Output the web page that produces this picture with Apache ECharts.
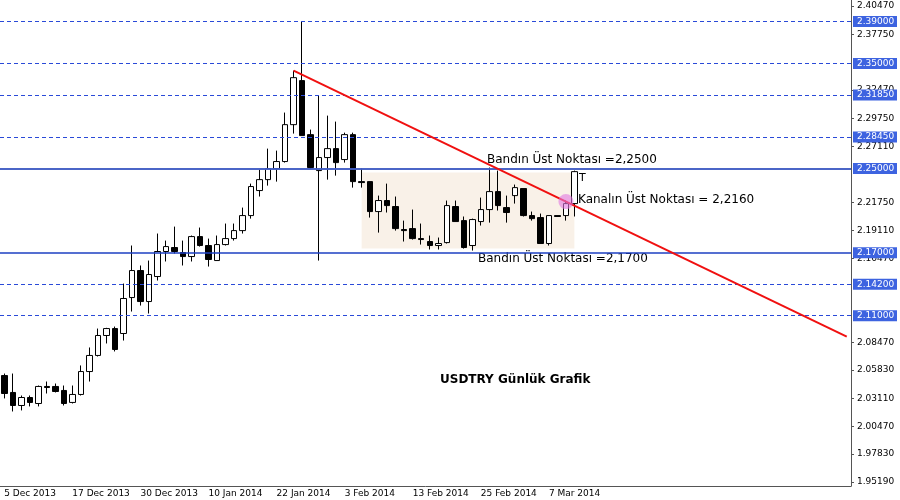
<!DOCTYPE html>
<html>
<head>
<meta charset="utf-8">
<script src="https://cdn.jsdelivr.net/npm/echarts@6/dist/echarts.min.js"></script>
<style>html,body{margin:0;padding:0;background:#fff}#chart{width:900px;height:500px}</style>
</head>
<body>
<div id="chart"></div>
<script>
// OHLC: [open, close, low, high]
var candles = [
    [2.0531, 2.0360, 2.0313, 2.0550], [2.0370, 2.0246, 2.0189, 2.0550], [2.0246, 2.0322, 2.0199, 2.0341],
    [2.0322, 2.0275, 2.0237, 2.0341], [2.0265, 2.0427, 2.0237, 2.0436], [2.0427, 2.0417, 2.0360, 2.0474],
    [2.0427, 2.0379, 2.0370, 2.0455], [2.0389, 2.0265, 2.0246, 2.0436], [2.0275, 2.0351, 2.0265, 2.0436],
    [2.0351, 2.0569, 2.0341, 2.0627], [2.0569, 2.0722, 2.0474, 2.0798], [2.0722, 2.0912, 2.0712, 2.0978],
    [2.0912, 2.0978, 2.0836, 2.0985], [2.0978, 2.0779, 2.0760, 2.0997], [2.0931, 2.1264, 2.0864, 2.1406],
    [2.1273, 2.1530, 2.1140, 2.1768], [2.1530, 2.1235, 2.1197, 2.1578], [2.1235, 2.1492, 2.1121, 2.1625],
    [2.1473, 2.1711, 2.1435, 2.1882], [2.1711, 2.1758, 2.1616, 2.1815], [2.1749, 2.1711, 2.1692, 2.1948],
    [2.1701, 2.1663, 2.1578, 2.1815], [2.1663, 2.1853, 2.1616, 2.1863], [2.1853, 2.1768, 2.1758, 2.1939],
    [2.1768, 2.1635, 2.1568, 2.1834], [2.1625, 2.1777, 2.1625, 2.1863], [2.1777, 2.1834, 2.1768, 2.1977],
    [2.1834, 2.1910, 2.1815, 2.1977], [2.1910, 2.2053, 2.1882, 2.2129], [2.2053, 2.2329, 2.2024, 2.2357],
    [2.2291, 2.2395, 2.2234, 2.2490], [2.2395, 2.2500, 2.2338, 2.2690], [2.2500, 2.2567, 2.2376, 2.2671],
    [2.2567, 2.2918, 2.2557, 2.3033], [2.2918, 2.3365, 2.2833, 2.3432], [2.3337, 2.2814, 2.2814, 2.3898],
    [2.2823, 2.2510, 2.2500, 2.2871], [2.2481, 2.2605, 2.1625, 2.3194], [2.2605, 2.2690, 2.2395, 2.3004],
    [2.2690, 2.2557, 2.2433, 2.2947], [2.2586, 2.2823, 2.2557, 2.2842], [2.2823, 2.2376, 2.2319, 2.2842],
    [2.2376, 2.2367, 2.2319, 2.2500], [2.2376, 2.2091, 2.2034, 2.2376], [2.2091, 2.2196, 2.1891, 2.2243],
    [2.2196, 2.2148, 2.2082, 2.2357], [2.2139, 2.1929, 2.1910, 2.2234], [2.1920, 2.1910, 2.1806, 2.2005],
    [2.1929, 2.1834, 2.1825, 2.2110], [2.1834, 2.1825, 2.1777, 2.1977], [2.1806, 2.1768, 2.1730, 2.1863],
    [2.1768, 2.1787, 2.1730, 2.1844], [2.1796, 2.2148, 2.1787, 2.2196], [2.2139, 2.1996, 2.1996, 2.2196],
    [2.2005, 2.1749, 2.1739, 2.2044], [2.1768, 2.2015, 2.1720, 2.2024], [2.1996, 2.2110, 2.1958, 2.2224],
    [2.2110, 2.2281, 2.1986, 2.2510], [2.2281, 2.2148, 2.2101, 2.2481], [2.2129, 2.2082, 2.1986, 2.2243],
    [2.2243, 2.2319, 2.2167, 2.2348], [2.2310, 2.2053, 2.2044, 2.2310], [2.2053, 2.2024, 2.2005, 2.2091],
    [2.2034, 2.1787, 2.1787, 2.2072], [2.1787, 2.2053, 2.1768, 2.2053], [2.2053, 2.2044, 2.2044, 2.2053],
    [2.2053, 2.2167, 2.2005, 2.2196], [2.2167, 2.2471, 2.2044, 2.2481]
];
var yTicks = [2.40470, 2.37750, 2.32470, 2.29750, 2.27110, 2.21750, 2.19110, 2.16470,
    2.08470, 2.05830, 2.03110, 2.00470, 1.97830, 1.95190];
var dashedLevels = ['2.39000', '2.35000', '2.31850', '2.28450', '2.14200', '2.11000'];
var solidLevels = ['2.25000', '2.17000'];
var lastPrice = '2.24710';
var trend = [[34, 2.3432], [99, 2.0902]];
var band = [[42, 2.2462], [67, 2.1739]];
var kanal = [66, 2.2186];

// trading days, Christmas and New Year skipped
var months = ['Jan', 'Feb', 'Mar', 'Apr', 'May', 'Jun', 'Jul', 'Aug', 'Sep', 'Oct', 'Nov', 'Dec'];
var dates = [];
var d = new Date(Date.UTC(2013, 11, 5));
while (dates.length < 100) {
    var wd = d.getUTCDay();
    var skip = (d.getUTCMonth() == 11 && d.getUTCDate() == 25) || (d.getUTCMonth() == 0 && d.getUTCDate() == 1);
    if (wd != 0 && wd != 6 && !skip) {
        dates.push(d.getUTCDate() + ' ' + months[d.getUTCMonth()] + ' ' + d.getUTCFullYear());
    }
    d.setUTCDate(d.getUTCDate() + 1);
}

var boxLabel = function (text, bg) {
    return {
        show: true, position: 'end', distance: 2, formatter: text,
        backgroundColor: bg, color: '#fff', fontFamily: 'DejaVu Sans', fontSize: 9,
        padding: [1, 4, 1, 4], width: 36
    };
};
var lines = [];
dashedLevels.forEach(function (v) {
    lines.push({yAxis: +v, lineStyle: {color: '#2a4ad8', type: [4, 3], width: 1}, label: boxLabel(v, '#3d63e0')});
});
lines.push({yAxis: +lastPrice, lineStyle: {color: '#c8c8c8', type: 'solid', width: 1.5}, label: boxLabel(lastPrice, '#000')});
solidLevels.forEach(function (v) {
    lines.push({yAxis: +v, lineStyle: {color: '#1d3fc2', type: 'solid', width: 1.5}, label: boxLabel(v, '#3d63e0')});
});
lines.push([
    {coord: trend[0], lineStyle: {color: '#f01010', width: 2, type: 'solid'}, label: {show: false}, symbol: 'none'},
    {coord: trend[1], symbol: 'none'}
]);

var myChart = echarts.init(document.getElementById('chart'));
myChart.setOption({
    animation: false,
    backgroundColor: '#fff',
    grid: {left: -4, right: 49, top: 0, bottom: 14},
    xAxis: {
        type: 'category',
        data: dates,
        boundaryGap: true,
        axisLine: {lineStyle: {color: '#555'}},
        axisTick: {interval: function (i) { return i % 8 == 0 && i < candles.length; }, alignWithLabel: true, lineStyle: {color: '#555'}},
        axisLabel: {interval: function (i) { return i % 8 == 0 && i < candles.length; }, align: 'left', margin: 3,
            fontSize: 9, color: '#000', fontFamily: 'DejaVu Sans'},
        splitLine: {show: false}
    },
    yAxis: {
        type: 'value',
        position: 'right',
        min: 1.948,
        max: 2.4104,
        axisLine: {show: true, lineStyle: {color: '#555'}},
        axisTick: {show: true, customValues: yTicks, length: 3, lineStyle: {color: '#555'}},
        axisLabel: {customValues: yTicks, margin: 6, fontSize: 9, color: '#000', fontFamily: 'DejaVu Sans',
            formatter: function (v) { return v.toFixed(5); }},
        splitLine: {show: false}
    },
    series: [{
        type: 'candlestick',
        data: candles,
        barWidth: 6,
        itemStyle: {color: '#fff', color0: '#000', borderColor: '#000', borderColor0: '#000', borderWidth: 1},
        markArea: {
            silent: true,
            itemStyle: {color: 'rgba(242,224,204,0.45)'},
            data: [[{coord: band[0]}, {coord: band[1]}]]
        },
        markLine: {silent: true, symbol: 'none', data: lines},
        markPoint: {
            silent: true,
            data: [{coord: kanal, symbol: 'circle', symbolSize: 15, itemStyle: {color: 'rgba(225,120,225,0.6)'}, label: {show: false}}]
        }
    }],
    graphic: [
        {type: 'text', left: 487, top: 154, style: {text: 'Bandın Üst Noktası =2,2500', font: '12px "DejaVu Sans"', fill: '#000'}},
        {type: 'text', left: 578, top: 194, style: {text: 'Kanalın Üst Noktası = 2,2160', font: '12px "DejaVu Sans"', fill: '#000'}},
        {type: 'text', left: 478, top: 253, style: {text: 'Bandın Üst Noktası =2,1700', font: '12px "DejaVu Sans"', fill: '#000'}},
        {type: 'text', left: 440, top: 374, style: {text: 'USDTRY Günlük Grafik', font: 'bold 12px "DejaVu Sans"', fill: '#000'}},
        {type: 'text', left: 579, top: 173, style: {text: 'T', font: '11px "DejaVu Sans"', fill: '#000'}}
    ]
});
</script>
</body>
</html>
